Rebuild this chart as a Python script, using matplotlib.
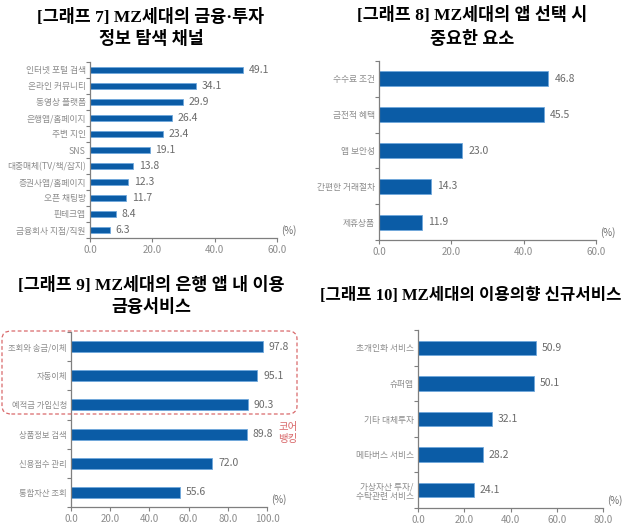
import numpy as np
import matplotlib.pyplot as plt
from matplotlib.patches import FancyBboxPatch

plt.rcParams['font.family'] = ['Noto Sans CJK KR', 'DejaVu Sans']

# [그래프 7]
cat7 = ['인터넷 포털 검색', '온라인 커뮤니티', '동영상 플랫폼', '은행앱/홈페이지', '주변 지인', 'SNS',
        '대중매체(TV/책/잡지)', '증권사앱/홈페이지', '오픈 채팅방', '핀테크앱', '금융회사 지점/직원']
val7 = [49.1, 34.1, 29.9, 26.4, 23.4, 19.1, 13.8, 12.3, 11.7, 8.4, 6.3]

# [그래프 8]
cat8 = ['수수료 조건', '금전적 혜택', '앱 보안성', '간편한 거래절차', '제휴상품']
val8 = [46.8, 45.5, 23.0, 14.3, 11.9]

# [그래프 9]
cat9 = ['조회와 송금/이체', '자동이체', '예적금 가입신청', '상품정보 검색', '신용점수 관리', '통합자산 조회']
val9 = [97.8, 95.1, 90.3, 89.8, 72.0, 55.6]

# [그래프 10]
cat10 = ['초개인화 서비스', '슈퍼앱', '기타 대체투자', '메타버스 서비스', '가상자산 투자/\n수탁관련 서비스']
val10 = [50.9, 50.1, 32.1, 28.2, 24.1]

W, H = 626, 526
fig = plt.figure(figsize=(W / 100, H / 100), dpi=100)

bar_col = '#0B5CA6'
edge_col = '#6FA8DC'
lab_col = '#8C8C8C'
val_col = '#6B6B6B'
spine_col = '#7F7F7F'


def box(x0, x1, ytop, ybot):
    return [x0 / W, 1 - ybot / H, (x1 - x0) / W, (ybot - ytop) / H]


def hbar(rect, cats, vals, xmax, xstep, bh, lab_fs=6, pad_val=None):
    ax = fig.add_axes(rect)
    n = len(cats)
    y = np.arange(n)
    ax.barh(y, vals, height=bh, color=bar_col, edgecolor=edge_col, linewidth=0.6)
    ax.set_ylim(n - 0.5, -0.5)
    ax.set_xlim(0, xmax)
    if pad_val is None:
        pad_val = xmax * 0.03
    for yi, v in zip(y, vals):
        ax.text(v + pad_val, yi, f'{v:.1f}', va='center', ha='left', fontsize=7.5, color=val_col)
    ax.set_yticks(y)
    ax.set_yticklabels(cats, fontsize=lab_fs, color=lab_col, linespacing=1.1)
    ax.set_yticks(np.arange(n + 1) - 0.5, minor=True)
    ax.tick_params(axis='y', which='major', length=0, pad=3)
    ax.tick_params(axis='y', which='minor', length=3, color=spine_col, width=0.8)
    ticks = np.arange(0, xmax + 0.1, xstep)
    ax.set_xticks(ticks)
    ax.set_xticklabels([f'{t:.1f}' for t in ticks], fontsize=7, color=lab_col)
    ax.tick_params(axis='x', length=3, color=spine_col, width=0.8, pad=2)
    for s in ['top', 'right']:
        ax.spines[s].set_visible(False)
    for s in ['left', 'bottom']:
        ax.spines[s].set_color(spine_col)
        ax.spines[s].set_linewidth(0.9)
    ax.text(1.02, 0.01, '(%)', transform=ax.transAxes, fontsize=7, color=val_col,
            ha='left', va='bottom')
    return ax


hbar(box(90, 277, 62, 238), cat7, val7, 60, 20, 0.38, lab_fs=6.3)
hbar(box(379, 596, 61, 240), cat8, val8, 60, 20, 0.42, lab_fs=6.3)
hbar(box(71, 267, 332, 507), cat9, val9, 100, 20, 0.38, lab_fs=6.0)
hbar(box(418, 603, 330, 508), cat10, val10, 80, 20, 0.40, lab_fs=6.3)

tfont = dict(fontsize=12.5, fontweight='bold', color='black',
             family=['Liberation Serif', 'Noto Sans CJK KR'])
fig.text(151 / W, 1 - 17 / H, '[그래프 7] MZ세대의 금융·투자', ha='center', va='center', **tfont)
fig.text(151 / W, 1 - 39 / H, '정보 탐색 채널', ha='center', va='center', **tfont)
fig.text(472 / W, 1 - 16 / H, '[그래프 8] MZ세대의 앱 선택 시', ha='center', va='center', **tfont)
fig.text(472 / W, 1 - 39 / H, '중요한 요소', ha='center', va='center', **tfont)
fig.text(151 / W, 1 - 285 / H, '[그래프 9] MZ세대의 은행 앱 내 이용', ha='center', va='center', **tfont)
fig.text(151 / W, 1 - 308 / H, '금융서비스', ha='center', va='center', **tfont)
tfont10 = dict(tfont, fontsize=12)
fig.text(320 / W, 1 - 296 / H, '[그래프 10] MZ세대의 이용의향 신규서비스', ha='left', va='center', **tfont10)

# core banking highlight
red = '#D9696B'
fig.patches.append(FancyBboxPatch((2 / W, 1 - 414 / H), 295 / W, 83 / H,
                                  boxstyle='round,pad=0,rounding_size=0.015',
                                  transform=fig.transFigure, fill=False,
                                  edgecolor=red, linestyle=(0, (3, 2)), linewidth=0.9))
fig.text(288 / W, 1 - 433 / H, '코어\n뱅킹', ha='center', va='center', fontsize=7.5,
         color=red, linespacing=1.2)

fig.savefig('out.png', dpi=100)
